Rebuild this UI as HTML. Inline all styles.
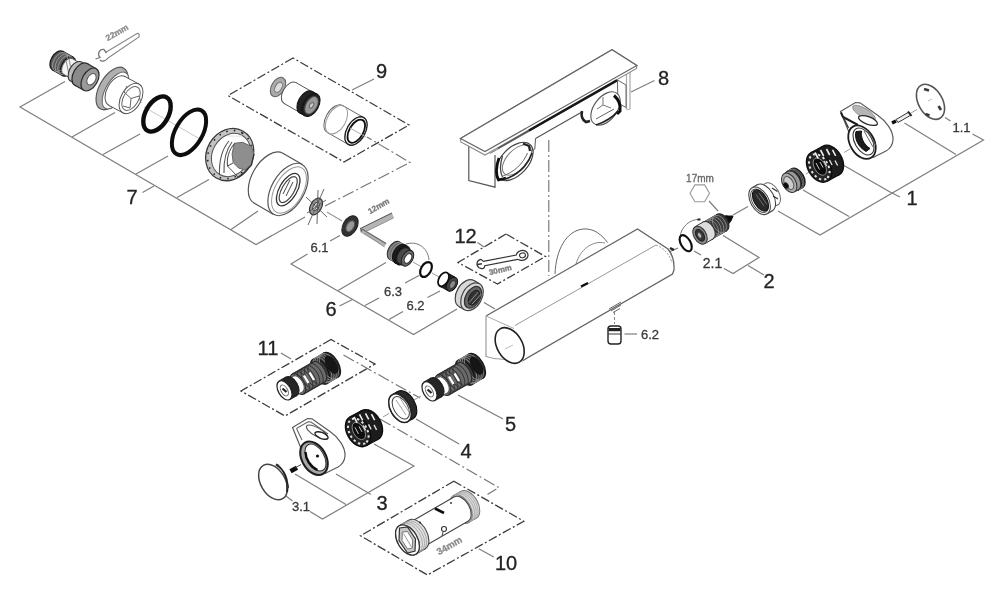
<!DOCTYPE html>
<html><head><meta charset="utf-8"><title>Exploded view</title>
<style>
html,body{margin:0;padding:0;background:#fff;}
svg{display:block;font-family:"Liberation Sans",sans-serif;}
.l{stroke:#7e7e7e;stroke-width:1.2;fill:none;}
.lt{stroke:#9a9a9a;stroke-width:1;fill:none;}
.d{stroke:#3c3c3c;stroke-width:1.3;fill:none;stroke-dasharray:9 2.5 2 2.5;}
.c{stroke:#757575;stroke-width:1.15;fill:none;stroke-dasharray:12 3 2 3;}
.p{stroke:#3a3a3a;stroke-width:1;fill:none;}
.pg{stroke:#777;stroke-width:1;fill:none;}
.pk{stroke:#111;stroke-width:1.4;fill:none;}
.o{stroke:#0a0a0a;fill:none;}
</style></head><body>
<svg width="1000" height="600" viewBox="0 0 1000 600">
<defs><filter id="bl" x="-5%" y="-5%" width="110%" height="110%"><feGaussianBlur stdDeviation="0.55"/></filter></defs>
<rect width="1000" height="600" fill="#fff"/>
<g filter="url(#bl)">
<path d="M65.0 81.5 L20.0 107.0 L256.0 244.5 L305.0 217.0" class="l" />
<line x1="72.0" y1="137.0" x2="115.0" y2="112.5" class="l" />
<line x1="103.0" y1="154.5" x2="140.0" y2="134.0" class="l" />
<line x1="136.0" y1="174.0" x2="168.0" y2="156.0" class="l" />
<line x1="177.0" y1="197.5" x2="209.0" y2="179.5" class="l" />
<line x1="231.0" y1="229.5" x2="258.0" y2="211.0" class="l" />
<line x1="142.5" y1="192.5" x2="154.0" y2="186.0" class="l" />
<text x="132.0" y="204.0" font-size="20" fill="#222" stroke="#222" stroke-width="0.3" text-anchor="middle" >7</text>
<path d="M325.0 206.0 L410.0 162.5 L367.0 137.0" class="c" />
<path d="M293.0 58.0 L228.0 95.6 L344.0 162.0 L409.0 125.0 Z" class="d" />
<line x1="374.0" y1="79.0" x2="352.0" y2="90.0" class="l" />
<text x="381.5" y="78.0" font-size="20" fill="#222" stroke="#222" stroke-width="0.3" text-anchor="middle" >9</text>
<path d="M307.5 254.0 L291.0 264.0 L413.5 334.5 L457.0 309.0" class="l" />
<line x1="340.0" y1="235.5" x2="330.0" y2="241.0" class="l" />
<text x="319.5" y="252.0" font-size="13" fill="#3a3a3a" stroke="#3a3a3a" stroke-width="0.3" text-anchor="middle" >6.1</text>
<line x1="338.0" y1="290.5" x2="386.0" y2="262.5" class="l" />
<line x1="365.0" y1="305.5" x2="379.0" y2="298.0" class="l" />
<line x1="405.0" y1="283.0" x2="419.0" y2="275.5" class="l" />
<text x="393.0" y="296.0" font-size="13" fill="#3a3a3a" stroke="#3a3a3a" stroke-width="0.3" text-anchor="middle" >6.3</text>
<line x1="389.0" y1="319.5" x2="403.0" y2="311.5" class="l" />
<line x1="427.5" y1="297.5" x2="440.0" y2="291.0" class="l" />
<text x="415.5" y="309.5" font-size="13" fill="#3a3a3a" stroke="#3a3a3a" stroke-width="0.3" text-anchor="middle" >6.2</text>
<line x1="339.5" y1="306.0" x2="352.5" y2="299.5" class="l" />
<text x="331.0" y="316.0" font-size="20" fill="#222" stroke="#222" stroke-width="0.3" text-anchor="middle" >6</text>
<path d="M506.0 234.0 L458.0 262.5 L497.5 284.0 L545.5 256.5 Z" class="d" />
<line x1="477.5" y1="242.5" x2="484.0" y2="247.0" class="l" />
<text x="465.5" y="243.0" font-size="20" fill="#222" stroke="#222" stroke-width="0.3" text-anchor="middle" >12</text>
<line x1="548.8" y1="140.0" x2="548.8" y2="276.0" class="c" />
<line x1="654.5" y1="80.5" x2="631.0" y2="92.0" class="l" />
<text x="663.5" y="85.0" font-size="20" fill="#222" stroke="#222" stroke-width="0.3" text-anchor="middle" >8</text>
<line x1="624.5" y1="334.0" x2="637.0" y2="334.0" class="l" />
<text x="650.0" y="338.5" font-size="13" fill="#3a3a3a" stroke="#3a3a3a" stroke-width="0.3" text-anchor="middle" >6.2</text>
<path d="M724.0 268.5 L733.0 273.5 L759.0 257.5 L723.0 235.5" class="l" />
<line x1="748.0" y1="265.5" x2="764.0" y2="275.0" class="l" />
<text x="769.0" y="287.5" font-size="20" fill="#222" stroke="#222" stroke-width="0.3" text-anchor="middle" >2</text>
<line x1="694.0" y1="251.0" x2="701.0" y2="255.0" class="l" />
<text x="712.5" y="268.0" font-size="14" fill="#3a3a3a" stroke="#3a3a3a" stroke-width="0.3" text-anchor="middle" >2.1</text>
<line x1="678.0" y1="248.0" x2="669.0" y2="252.0" class="l" />
<line x1="709.0" y1="201.0" x2="718.0" y2="211.0" class="l" />
<line x1="733.0" y1="215.0" x2="748.0" y2="206.5" class="l" />
<path d="M778.0 211.0 L820.0 235.0 L983.5 140.0 L972.5 134.0" class="l" />
<line x1="803.0" y1="190.0" x2="849.0" y2="216.5" class="l" />
<line x1="844.0" y1="165.5" x2="890.0" y2="192.0" class="l" />
<line x1="904.5" y1="123.0" x2="956.0" y2="154.5" class="l" />
<line x1="945.0" y1="117.5" x2="950.5" y2="121.0" class="l" />
<text x="961.5" y="131.5" font-size="13" fill="#3a3a3a" stroke="#3a3a3a" stroke-width="0.3" text-anchor="middle" >1.1</text>
<line x1="890.0" y1="192.0" x2="900.0" y2="197.0" class="l" />
<text x="912.0" y="204.5" font-size="20" fill="#222" stroke="#222" stroke-width="0.3" text-anchor="middle" >1</text>
<path d="M331.0 339.5 L241.0 391.0 L285.0 416.0 L375.0 364.0 Z" class="d" />
<line x1="281.0" y1="353.0" x2="291.0" y2="359.0" class="l" />
<text x="268.0" y="355.0" font-size="20" fill="#222" stroke="#222" stroke-width="0.3" text-anchor="middle" >11</text>
<path d="M343.5 355.0 L420.0 398.0" class="c" />
<path d="M380.0 419.0 L498.8 487.5 L487.5 494.5" class="c" />
<line x1="416.0" y1="419.0" x2="459.0" y2="444.0" class="l" />
<text x="466.0" y="458.0" font-size="20" fill="#222" stroke="#222" stroke-width="0.3" text-anchor="middle" >4</text>
<line x1="458.0" y1="395.0" x2="503.0" y2="419.0" class="l" />
<text x="510.5" y="431.0" font-size="20" fill="#222" stroke="#222" stroke-width="0.3" text-anchor="middle" >5</text>
<path d="M374.0 444.0 L414.0 466.0 L322.5 519.0 L310.0 511.5" class="l" />
<line x1="295.0" y1="474.0" x2="346.0" y2="504.5" class="l" />
<line x1="336.0" y1="474.0" x2="371.0" y2="494.5" class="l" />
<text x="382.0" y="509.5" font-size="20" fill="#222" stroke="#222" stroke-width="0.3" text-anchor="middle" >3</text>
<line x1="286.0" y1="496.0" x2="292.5" y2="501.0" class="l" />
<text x="301.0" y="510.5" font-size="13" fill="#3a3a3a" stroke="#3a3a3a" stroke-width="0.3" text-anchor="middle" >3.1</text>
<path d="M453.8 481.2 L360.5 535.8 L427.5 575.0 L523.8 521.2 Z" class="d" />
<line x1="478.8" y1="548.8" x2="493.8" y2="557.0" class="l" />
<text x="506.0" y="569.5" font-size="20" fill="#222" stroke="#222" stroke-width="0.3" text-anchor="middle" >10</text>
<path d="M555 274 C556 250 566 231 583 229 C594 228 602 235 607.5 242.5" class="pg" style="stroke:#666"/>
<path d="M576 264 C580 250 592 240 605 243" class="pg" style="stroke:#888"/>
<path d="M486 316 L637.5 229 L668 249 C672 254 674.5 262 674 270 L672.5 274 L523 360.5" class="p" style="stroke:#626262;stroke-width:1.25;fill:#fff"/>
<path d="M486 316 L514 328.5" class="lt" style="stroke:#aaa"/>
<line x1="515.0" y1="325.5" x2="656.0" y2="245.0" class="lt" style="stroke:#999"/>
<path d="M656 245 C664 248 670 255 672 263" class="lt" style="stroke:#999;stroke-dasharray:2 1.5"/>
<line x1="486.0" y1="316.0" x2="486.0" y2="357.0" class="lt" style="stroke:#b5b5b5;stroke-width:1.6"/>
<path d="M486 356.5 L494 358.5 L523 361" class="lt" style="stroke:#999"/>
<ellipse cx="509.7" cy="345.5" rx="19.2" ry="12.6" transform="rotate(60 509.7 345.5)" class="p" style="stroke:#222;stroke-width:1.6;fill:#fff"/>
<line x1="505.0" y1="349.0" x2="513.0" y2="345.0" class="lt" style="stroke:#bbb"/>
<path d="M581 286.5 L588 283" class="pk" style="stroke-width:2.2;stroke:#111"/>
<path d="M670 248 l4 2" class="pk" style="stroke-width:2.5;stroke:#222"/>
<path d="M609 309 l12 -7 M611 311 l10 -6 M613 312.5 l7 -4" class="pg" style="stroke:#666"/>
<line x1="614.5" y1="312.0" x2="614.5" y2="324.0" class="lt" style="stroke:#888;stroke-dasharray:3 2"/>
<rect x="608" y="326" width="13" height="18" rx="3" fill="#fff" stroke="#222" stroke-width="1.4"/>
<rect x="608.5" y="328" width="12" height="3.2" fill="#222"/>
<line x1="608.0" y1="334.0" x2="621.0" y2="334.0" class="p" />
<line x1="484.0" y1="302.5" x2="495.0" y2="309.0" class="l" />
<path d="M468.8 143 L468.8 180.5 L495 187.2 L495 155" class="p" style="stroke:#555;stroke-width:1.2;fill:#fff"/>
<path d="M626.5 70 L626.5 109.5 M630 69 L630 109 L626.5 109.5" class="lt" style="stroke:#aaa;stroke-width:1.2"/>
<path d="M617.5 80 L626 85 L626 107.5 L618 103 L617.5 85 Z" class="p" style="stroke:#666;fill:#fff"/>
<path d="M490 153.5 L617 81.5" class="lt" style="stroke:#777"/>
<path d="M535.5 138.5 L581 112.5" class="p" style="stroke:#555;stroke-width:1.2"/>
<path d="M535.5 138.5 L534.8 149 C532 152 529 152 527 151" class="p" style="stroke:#555"/>
<ellipse cx="514.5" cy="161.5" rx="23" ry="13.5" transform="rotate(-47 514.5 161.5)" fill="#fff" stroke="#444" stroke-width="1.2"/>
<ellipse cx="517" cy="160" rx="18.5" ry="10" transform="rotate(-47 517 160)" fill="none" stroke="#777" stroke-width="1"/>
<path d="M499 158 C496 166 495.5 175 498.5 180 L506 178" class="pk" style="stroke:#111;stroke-width:2.8"/>
<path d="M502.5 156 C500 164 500 172 502.5 177" class="p" style="stroke:#444;stroke-width:1.3"/>
<path d="M523 143.5 L529 146 L530 151" class="pk" style="stroke:#222;stroke-width:2.2"/>
<path d="M504 179.5 C516 176 527 167 532 153" class="pk" style="stroke:#222;stroke-width:1.7"/>
<path d="M503 176 C514 172 523 164 527.5 153" class="p" style="stroke:#666;stroke-width:1"/>
<ellipse cx="605.5" cy="108.5" rx="19" ry="11.5" transform="rotate(-53 605.5 108.5)" fill="#fff" stroke="#555" stroke-width="1.1"/>
<path d="M603 97 L603 105 L611 108 M603 105 L597 109" class="pg" style="stroke:#777"/>
<path d="M614 95.5 C618 99 621 105 620 111 L617 114" class="pk" style="stroke:#111;stroke-width:3"/>
<path d="M596 125 C605 122 613 117 618 111" class="pk" style="stroke:#222;stroke-width:1.8"/>
<path d="M582 111 C581 116 582 120 586 122 L590 121" class="pk" style="stroke:#222;stroke-width:2.6"/>
<path d="M596 119 L614 109" class="pg" style="stroke:#666"/>
<path d="M460.5 138.5 L612 49.8 L636.8 65.5 L485 151.5 Z" class="p" style="stroke:#666;stroke-width:1.2;fill:#fff"/>
<path d="M460.5 138.5 L460.8 142 L485 155 L636.5 68.5 L636.8 65.5" class="p" style="stroke:#888;stroke-width:1.1;fill:#fff"/>
<path d="M460.5 138.5 L612 49.8 L636.8 65.5 L485 151.5 Z" class="p" style="stroke:#666;stroke-width:1.2;fill:#fff"/>
<path d="M498 148.3 L529 130.5" class="p" style="stroke:#555;stroke-width:1.5"/>
<path d="M529 130.5 L617 80.2" class="pk" style="stroke:#151515;stroke-width:2.3"/>
<ellipse cx="57.5" cy="60.5" rx="10.5" ry="6.3" transform="rotate(-60 57.5 60.5)" class="p" style="fill:#5a5a5a;stroke:#1a1a1a;stroke-width:1.3"/>
<path d="M62.8 51.4 L73.2 57.4 L62.8 75.6 L52.2 69.6 Z" fill="#5a5a5a" stroke="none"/>
<line x1="62.8" y1="51.4" x2="73.2" y2="57.4" class="p" style="stroke:#1a1a1a;stroke-width:1.3"/>
<line x1="52.2" y1="69.6" x2="62.8" y2="75.6" class="p" style="stroke:#1a1a1a;stroke-width:1.3"/>
<ellipse cx="68.0" cy="66.5" rx="10.5" ry="6.3" transform="rotate(-60 68.0 66.5)" class="p" style="fill:#5a5a5a;stroke:#1a1a1a;stroke-width:1.3"/>
<ellipse cx="60.1" cy="62.0" rx="10.5" ry="6.3" transform="rotate(-60 60.1 62.0)" class="p" style="stroke:#aaa;stroke-width:0.7"/>
<ellipse cx="62.7" cy="63.5" rx="10.5" ry="6.3" transform="rotate(-60 62.7 63.5)" class="p" style="stroke:#aaa;stroke-width:0.7"/>
<ellipse cx="65.3" cy="65.0" rx="10.5" ry="6.3" transform="rotate(-60 65.3 65.0)" class="p" style="stroke:#aaa;stroke-width:0.7"/>
<ellipse cx="68.0" cy="66.5" rx="9.0" ry="5.3" transform="rotate(-60 68.0 66.5)" class="p" style="fill:#f4f4f4;stroke:#555"/>
<path d="M72.5 58.7 L79.5 62.7 L70.5 78.3 L63.5 74.3 Z" fill="#f4f4f4" stroke="none"/>
<line x1="72.5" y1="58.7" x2="79.5" y2="62.7" class="p" style="stroke:#555"/>
<line x1="63.5" y1="74.3" x2="70.5" y2="78.3" class="p" style="stroke:#555"/>
<ellipse cx="75.0" cy="70.5" rx="9.0" ry="5.3" transform="rotate(-60 75.0 70.5)" class="p" style="fill:#f4f4f4;stroke:#555"/>
<path d="M66 60 L69 75 M69 59 l3 15" class="p" style="stroke:#999;stroke-width:1.2"/>
<ellipse cx="76.0" cy="71.5" rx="11.0" ry="6.6" transform="rotate(-60 76.0 71.5)" class="p" style="fill:#bbb;stroke:#333"/>
<path d="M81.5 62.0 L86.5 64.9 L75.5 83.9 L70.5 81.0 Z" fill="#bbb" stroke="none"/>
<line x1="81.5" y1="62.0" x2="86.5" y2="64.9" class="p" style="stroke:#333"/>
<line x1="70.5" y1="81.0" x2="75.5" y2="83.9" class="p" style="stroke:#333"/>
<ellipse cx="81.0" cy="74.4" rx="11.0" ry="6.6" transform="rotate(-60 81.0 74.4)" class="p" style="fill:#bbb;stroke:#333"/>
<ellipse cx="81.0" cy="74.4" rx="12.5" ry="7.6" transform="rotate(-60 81.0 74.4)" class="p" style="fill:#8a8a8a;stroke:#2a2a2a;stroke-width:1.2"/>
<path d="M87.2 63.6 L96.2 68.7 L83.8 90.3 L74.8 85.2 Z" fill="#8a8a8a" stroke="none"/>
<line x1="87.2" y1="63.6" x2="96.2" y2="68.7" class="p" style="stroke:#2a2a2a;stroke-width:1.2"/>
<line x1="74.8" y1="85.2" x2="83.8" y2="90.3" class="p" style="stroke:#2a2a2a;stroke-width:1.2"/>
<ellipse cx="90.0" cy="79.5" rx="12.5" ry="7.6" transform="rotate(-60 90.0 79.5)" class="p" style="fill:#9a9a9a;stroke:#2a2a2a;stroke-width:1.2"/>
<ellipse cx="91.5" cy="79.3" rx="6.2" ry="4.0" transform="rotate(-60 91.5 79.3)" class="p" style="fill:#fff;stroke:#555"/>
<path d="M105.5 52.5 L137 33.5 Q140 33 139 37 L108 58" class="pg" style="stroke:#8a8a8a;stroke-width:1.2"/>
<path d="M95.5 59 L100 57.5 C97 54 99 49 104 49.5 L106.5 53 M108 58 C106 61 102 62 100 60" class="pg" style="stroke:#777;stroke-width:1.3"/>
<text x="118.5" y="35.0" font-size="8.5" fill="#8a8a8a" stroke="#8a8a8a" stroke-width="0.3" text-anchor="middle" transform="rotate(-30 118.5 35.0)" font-weight="bold">22mm</text>
<ellipse cx="112.0" cy="88.5" rx="23.5" ry="12.5" transform="rotate(-60 112.0 88.5)" class="p" style="fill:#b0b0b0;stroke:#555;stroke-width:1.2"/>
<ellipse cx="115.5" cy="90.5" rx="20.5" ry="9.8" transform="rotate(-60 115.5 90.5)" class="p" style="fill:#fff;stroke:#666"/>
<ellipse cx="117.0" cy="91.0" rx="16.5" ry="10.0" transform="rotate(-60 117.0 91.0)" class="p" style="fill:#fff;stroke:#555"/>
<path d="M125.2 76.7 L139.2 84.2 L122.8 112.8 L108.8 105.3 Z" fill="#fff" stroke="none"/>
<line x1="125.2" y1="76.7" x2="139.2" y2="84.2" class="p" style="stroke:#555"/>
<line x1="108.8" y1="105.3" x2="122.8" y2="112.8" class="p" style="stroke:#555"/>
<ellipse cx="131.0" cy="98.5" rx="16.5" ry="10.0" transform="rotate(-60 131.0 98.5)" class="p" style="fill:#fff;stroke:#555"/>
<ellipse cx="131.0" cy="98.5" rx="13.0" ry="7.5" transform="rotate(-60 131.0 98.5)" class="p" style="stroke:#666"/>
<path d="M131 98.5 L124 92 M131 98.5 L139 96 M131 98.5 L130 108 M124 92 L127 86 M139 96 L141 103 M130 108 L123 106" class="pg" style="stroke:#666"/>
<line x1="144.0" y1="107.0" x2="200.0" y2="139.0" class="lt" style="stroke:#c5c5c5"/>
<ellipse cx="157.0" cy="114.0" rx="19.2" ry="11.3" transform="rotate(-60 157.0 114.0)" class="o" style="stroke-width:4.4"/>
<ellipse cx="189.0" cy="132.3" rx="25.1" ry="13.5" transform="rotate(-60 189.0 132.3)" class="o" style="stroke-width:4"/>
<ellipse cx="229.7" cy="154.6" rx="27" ry="23" transform="rotate(-60 229.7 154.6)" fill="#c4c4c4" stroke="#3a3a3a" stroke-width="1.3"/>
<ellipse cx="231" cy="155" rx="22.5" ry="18.5" transform="rotate(-60 231 155)" fill="#fff" stroke="#555" stroke-width="1"/>
<ellipse cx="229.7" cy="154.6" rx="25" ry="21" transform="rotate(-60 229.7 154.6)" fill="none" stroke="#222" stroke-width="1.6" stroke-dasharray="1.5 6"/>
<path d="M234.3 143.3 L242.8 142.3 L251.3 146.5 L254 154 L251.3 164.7 L245 170 L238.5 168 L233.2 162.5 L232.1 154 Z" class="p" style="fill:#8e8e8e;stroke:#666"/>
<path d="M254 154 L251.5 165 L245 172 L238.5 177" class="p" style="stroke:#333;stroke-width:1.3"/>
<path d="M229 141 C222 149 219 160 219.5 175 M232 142 C226 150 223.5 160 224 173" class="p" style="stroke:#555;stroke-width:1.1"/>
<path d="M234.5 143.5 C229 150 226.5 158 227.5 166 L233 163" class="p" style="stroke:#444;stroke-width:1"/>
<path d="M227.5 166 L238 177" class="p" style="stroke:#555"/>
<path d="M228 136 L242 136.5" class="p" style="stroke:#eee;stroke-width:2"/>
<ellipse cx="268.4" cy="178.2" rx="28.7" ry="16.3" transform="rotate(-60 268.4 178.2)" class="p" style="fill:#fff;stroke:#555;stroke-width:1.2"/>
<path d="M282.8 153.3 L302.4 164.6 L273.6 214.4 L254.0 203.1 Z" fill="#fff" stroke="none"/>
<line x1="282.8" y1="153.3" x2="302.4" y2="164.6" class="p" style="stroke:#555;stroke-width:1.2"/>
<line x1="254.0" y1="203.1" x2="273.6" y2="214.4" class="p" style="stroke:#555;stroke-width:1.2"/>
<ellipse cx="288.0" cy="189.5" rx="28.7" ry="16.3" transform="rotate(-60 288.0 189.5)" class="p" style="fill:#fff;stroke:#555;stroke-width:1.2"/>
<ellipse cx="289.0" cy="190.0" rx="25.5" ry="13.8" transform="rotate(-60 289.0 190.0)" class="p" style="stroke:#999"/>
<ellipse cx="288.2" cy="189.6" rx="18.0" ry="8.8" transform="rotate(-60 288.2 189.6)" class="p" style="stroke:#333;stroke-width:1.3;fill:#fff"/>
<ellipse cx="288.2" cy="189.6" rx="14.5" ry="6.2" transform="rotate(-60 288.2 189.6)" class="p" style="stroke:#444;stroke-width:1.2;fill:#fff"/>
<path d="M283 194 L290 180 M286 196 L293 182" class="p" style="stroke:#444"/>
<ellipse cx="316.0" cy="206.5" rx="9.0" ry="5.5" transform="rotate(-60 316.0 206.5)" class="p" style="fill:#999;stroke:#333;stroke-width:1.2"/>
<ellipse cx="316.0" cy="206.5" rx="4.5" ry="2.6" transform="rotate(-60 316.0 206.5)" class="p" style="fill:#ddd;stroke:#444"/>
<path d="M306 197 L327 217 M324 189 L308 225 M307 213 L326 200 M318 190 L317 224" class="p" style="stroke:#555;stroke-width:0.9"/>
<ellipse cx="278.0" cy="87.0" rx="10.5" ry="6.5" transform="rotate(-60 278.0 87.0)" class="p" style="fill:#aaa;stroke:#666;stroke-width:1.1"/>
<ellipse cx="278.5" cy="87.3" rx="5.5" ry="3.2" transform="rotate(-60 278.5 87.3)" class="p" style="fill:#ddd;stroke:#777"/>
<ellipse cx="290.0" cy="93.0" rx="12.0" ry="7.2" transform="rotate(-60 290.0 93.0)" class="p" style="fill:#fff;stroke:#555"/>
<path d="M296.0 82.6 L316.0 94.1 L304.0 114.9 L284.0 103.4 Z" fill="#fff" stroke="none"/>
<line x1="296.0" y1="82.6" x2="316.0" y2="94.1" class="p" style="stroke:#555"/>
<line x1="284.0" y1="103.4" x2="304.0" y2="114.9" class="p" style="stroke:#555"/>
<ellipse cx="310.0" cy="104.5" rx="12.0" ry="7.2" transform="rotate(-60 310.0 104.5)" class="p" style="fill:#fff;stroke:#555"/>
<ellipse cx="306.0" cy="102.2" rx="12.5" ry="7.6" transform="rotate(-60 306.0 102.2)" class="p" style="fill:#222;stroke:#111"/>
<path d="M312.2 91.4 L317.2 94.2 L304.8 115.8 L299.8 113.0 Z" fill="#222" stroke="none"/>
<line x1="312.2" y1="91.4" x2="317.2" y2="94.2" class="p" style="stroke:#111"/>
<line x1="299.8" y1="113.0" x2="304.8" y2="115.8" class="p" style="stroke:#111"/>
<ellipse cx="311.0" cy="105.0" rx="12.5" ry="7.6" transform="rotate(-60 311.0 105.0)" class="p" style="fill:#222;stroke:#111"/>
<ellipse cx="311.5" cy="105.3" rx="9.5" ry="5.5" transform="rotate(-60 311.5 105.3)" class="p" style="fill:#999;stroke:#555"/>
<ellipse cx="311.5" cy="105.3" rx="3.0" ry="1.8" transform="rotate(-60 311.5 105.3)" class="p" style="fill:#ccc;stroke:#666"/>
<ellipse cx="335.0" cy="119.0" rx="15.5" ry="9.2" transform="rotate(-60 335.0 119.0)" class="p" style="fill:#fff;stroke:#666"/>
<path d="M342.8 105.6 L363.8 117.6 L348.2 144.4 L327.2 132.4 Z" fill="#fff" stroke="none"/>
<line x1="342.8" y1="105.6" x2="363.8" y2="117.6" class="p" style="stroke:#666"/>
<line x1="327.2" y1="132.4" x2="348.2" y2="144.4" class="p" style="stroke:#666"/>
<ellipse cx="356.0" cy="131.0" rx="15.5" ry="9.2" transform="rotate(-60 356.0 131.0)" class="p" style="fill:#fff;stroke:#666"/>
<ellipse cx="336.5" cy="119.8" rx="15.5" ry="9.2" transform="rotate(-60 336.5 119.8)" class="p" style="stroke:#999"/>
<ellipse cx="356.0" cy="131.0" rx="15.5" ry="9.2" transform="rotate(-60 356.0 131.0)" class="p" style="stroke:#222;stroke-width:1.3;fill:#fff"/>
<ellipse cx="356.3" cy="131.2" rx="12.8" ry="7.0" transform="rotate(-60 356.3 131.2)" class="p" style="stroke:#111;stroke-width:1.8;fill:#fff"/>
<line x1="350.0" y1="128.0" x2="366.0" y2="137.0" class="lt" style="stroke:#aaa"/>
<ellipse cx="350.0" cy="226.0" rx="11.0" ry="7.0" transform="rotate(-60 350.0 226.0)" class="p" style="fill:#333;stroke:#222"/>
<ellipse cx="350.3" cy="226.2" rx="6.0" ry="3.6" transform="rotate(-60 350.3 226.2)" class="p" style="fill:#999;stroke:#555"/>
<line x1="327.0" y1="212.0" x2="342.0" y2="221.0" class="c" style="stroke-dasharray:none;stroke:#999"/>
<path d="M393 215.5 L362 231 L385.5 245" class="pg" style="stroke:#b4b4b4;stroke-width:4.2;stroke-linejoin:round"/>
<path d="M392 213 L360.5 228.5 L362 231.5" class="pg" style="stroke:#555;stroke-width:1.1"/>
<path d="M362 229 L386 243.5" class="pg" style="stroke:#666;stroke-width:1.1"/>
<path d="M364 233 L384.5 247 M366 231.5 L393.5 218" class="pg" style="stroke:#888;stroke-width:0.9"/>
<text x="380.0" y="208.5" font-size="8" fill="#777" stroke="#777" stroke-width="0.3" text-anchor="middle" transform="rotate(-30 380.0 208.5)" font-weight="bold">12mm</text>
<ellipse cx="394.5" cy="250.6" rx="10.0" ry="6.2" transform="rotate(-60 394.5 250.6)" class="p" style="fill:#6a6a6a;stroke:#333"/>
<path d="M399.5 241.9 L406.0 245.7 L396.0 263.1 L389.5 259.3 Z" fill="#6a6a6a" stroke="none"/>
<line x1="399.5" y1="241.9" x2="406.0" y2="245.7" class="p" style="stroke:#333"/>
<line x1="389.5" y1="259.3" x2="396.0" y2="263.1" class="p" style="stroke:#333"/>
<ellipse cx="401.0" cy="254.4" rx="10.0" ry="6.2" transform="rotate(-60 401.0 254.4)" class="p" style="fill:#6a6a6a;stroke:#333"/>
<ellipse cx="396.2" cy="251.6" rx="10.0" ry="6.2" transform="rotate(-60 396.2 251.6)" class="p" style="stroke:#aaa;stroke-width:0.6"/>
<ellipse cx="398.4" cy="252.8" rx="10.0" ry="6.2" transform="rotate(-60 398.4 252.8)" class="p" style="stroke:#aaa;stroke-width:0.6"/>
<ellipse cx="400.0" cy="253.8" rx="10.3" ry="6.4" transform="rotate(-60 400.0 253.8)" class="p" style="fill:#1c1c1c;stroke:#111"/>
<path d="M405.1 244.9 L408.1 246.7 L397.9 264.5 L394.9 262.7 Z" fill="#1c1c1c" stroke="none"/>
<line x1="405.1" y1="244.9" x2="408.1" y2="246.7" class="p" style="stroke:#111"/>
<line x1="394.9" y1="262.7" x2="397.9" y2="264.5" class="p" style="stroke:#111"/>
<ellipse cx="403.0" cy="255.6" rx="10.3" ry="6.4" transform="rotate(-60 403.0 255.6)" class="p" style="fill:#1c1c1c;stroke:#111"/>
<ellipse cx="403.0" cy="255.6" rx="8.6" ry="5.3" transform="rotate(-60 403.0 255.6)" class="p" style="fill:#4a4a4a;stroke:#222"/>
<path d="M407.3 248.2 L411.8 250.8 L403.2 265.6 L398.7 263.0 Z" fill="#4a4a4a" stroke="none"/>
<line x1="407.3" y1="248.2" x2="411.8" y2="250.8" class="p" style="stroke:#222"/>
<line x1="398.7" y1="263.0" x2="403.2" y2="265.6" class="p" style="stroke:#222"/>
<ellipse cx="407.5" cy="258.2" rx="8.6" ry="5.3" transform="rotate(-60 407.5 258.2)" class="p" style="fill:#666;stroke:#222"/>
<ellipse cx="408.0" cy="258.5" rx="5.2" ry="3.2" transform="rotate(-60 408.0 258.5)" class="p" style="fill:#fff;stroke:#333"/>
<path d="M405 244.5 C416 240 428 247 429 260" class="pg" style="stroke:#777"/>
<line x1="413.0" y1="262.0" x2="421.0" y2="266.5" class="lt" />
<ellipse cx="426.0" cy="269.5" rx="8.0" ry="5.0" transform="rotate(-60 426.0 269.5)" class="o" style="stroke-width:2.2"/>
<line x1="432.0" y1="273.0" x2="439.0" y2="277.0" class="lt" />
<ellipse cx="444.5" cy="280.0" rx="7.6" ry="4.8" transform="rotate(-60 444.5 280.0)" class="p" style="fill:#222;stroke:#111"/>
<path d="M448.3 273.4 L455.8 277.6 L448.2 290.8 L440.7 286.6 Z" fill="#222" stroke="none"/>
<line x1="448.3" y1="273.4" x2="455.8" y2="277.6" class="p" style="stroke:#111"/>
<line x1="440.7" y1="286.6" x2="448.2" y2="290.8" class="p" style="stroke:#111"/>
<ellipse cx="452.0" cy="284.2" rx="7.6" ry="4.8" transform="rotate(-60 452.0 284.2)" class="p" style="fill:#444;stroke:#111"/>
<ellipse cx="443.5" cy="279.3" rx="7.6" ry="4.6" transform="rotate(-60 443.5 279.3)" class="p" style="stroke:#111;stroke-width:1.8;fill:#fff"/>
<ellipse cx="452.5" cy="284.5" rx="4.2" ry="2.6" transform="rotate(-60 452.5 284.5)" class="p" style="fill:#888;stroke:#333"/>
<ellipse cx="466.5" cy="293.5" rx="15.0" ry="9.8" transform="rotate(-60 466.5 293.5)" class="p" style="fill:#d8d8d8;stroke:#444;stroke-width:1.2"/>
<path d="M474.0 280.5 L479.5 283.7 L464.5 309.7 L459.0 306.5 Z" fill="#d8d8d8" stroke="none"/>
<line x1="474.0" y1="280.5" x2="479.5" y2="283.7" class="p" style="stroke:#444;stroke-width:1.2"/>
<line x1="459.0" y1="306.5" x2="464.5" y2="309.7" class="p" style="stroke:#444;stroke-width:1.2"/>
<ellipse cx="472.0" cy="296.7" rx="15.0" ry="9.8" transform="rotate(-60 472.0 296.7)" class="p" style="fill:#d8d8d8;stroke:#444;stroke-width:1.2"/>
<ellipse cx="473.0" cy="297.2" rx="11.8" ry="7.2" transform="rotate(-60 473.0 297.2)" class="p" style="fill:#666;stroke:#333;stroke-width:1.2"/>
<ellipse cx="474.0" cy="297.7" rx="8.0" ry="4.7" transform="rotate(-60 474.0 297.7)" class="p" style="fill:#333;stroke:#222"/>
<path d="M469 302.7 L478 292.2 M472 304.2 L481 294.2" class="p" style="stroke:#aaa;stroke-width:0.8"/>
<g transform="rotate(-11 501 260)">
<path d="M478 263.5 C475 260 477 255.5 481.5 255.5 L483.5 258 L517 258 C519 253.5 526 253.5 528 257.5 C530 262 525 266 520 264 L517.5 262.5 L484 262.5 C483.5 265 481 266 478 263.5 Z" class="p" style="stroke:#333;stroke-width:1.2;fill:#fff"/>
<ellipse cx="523" cy="259.5" rx="3" ry="2.4" fill="#fff" stroke="#333" stroke-width="1.1"/>
<path d="M477 260 l4.5 0" class="p" style="stroke:#333;stroke-width:1.5"/>
</g>
<text x="501.0" y="272.5" font-size="8" fill="#7a7a7a" stroke="#7a7a7a" stroke-width="0.3" text-anchor="middle" transform="rotate(-14 501.0 272.5)" font-weight="bold">30mm</text>
<text x="700.0" y="181.8" font-size="10" fill="#666" stroke="#666" stroke-width="0.3" text-anchor="middle" >17mm</text>
<path d="M690.0 193.3 L694.9 184.9 L704.6 184.9 L709.5 193.3 L704.6 201.7 L694.9 201.7 Z" class="pg" style="stroke:#999;stroke-width:1.1"/>
<path d="M699 219.5 C690 219 681 227 680 237" class="pg" style="stroke:#777"/>
<path d="M697.5 219.5 l3 0" class="pk" style="stroke:#222;stroke-width:2"/>
<ellipse cx="685.7" cy="243.2" rx="8.9" ry="4.8" transform="rotate(60 685.7 243.2)" class="o" style="stroke-width:2.1"/>
<ellipse cx="727.0" cy="219.5" rx="4.0" ry="2.6" transform="rotate(60 727.0 219.5)" class="p" style="fill:#111;stroke:#111"/>
<path d="M729.0 223.0 L724.0 226.0 L720.0 219.0 L725.0 216.0 Z" fill="#111" stroke="none"/>
<line x1="729.0" y1="223.0" x2="724.0" y2="226.0" class="p" style="stroke:#111"/>
<line x1="725.0" y1="216.0" x2="720.0" y2="219.0" class="p" style="stroke:#111"/>
<ellipse cx="722.0" cy="222.5" rx="4.0" ry="2.6" transform="rotate(60 722.0 222.5)" class="p" style="fill:#111;stroke:#111"/>
<path d="M726 216 L733 216 L731 221 L726 222 Z" class="p" style="fill:#111;stroke:#111"/>
<ellipse cx="722.0" cy="222.5" rx="9.5" ry="6.0" transform="rotate(60 722.0 222.5)" class="p" style="fill:#3a3a3a;stroke:#222"/>
<path d="M726.8 230.7 L712.8 238.7 L703.2 222.3 L717.2 214.3 Z" fill="#3a3a3a" stroke="none"/>
<line x1="726.8" y1="230.7" x2="712.8" y2="238.7" class="p" style="stroke:#222"/>
<line x1="717.2" y1="214.3" x2="703.2" y2="222.3" class="p" style="stroke:#222"/>
<ellipse cx="708.0" cy="230.5" rx="9.5" ry="6.0" transform="rotate(60 708.0 230.5)" class="p" style="fill:#3a3a3a;stroke:#222"/>
<ellipse cx="719.4" cy="224.0" rx="9.5" ry="6.0" transform="rotate(60 719.4 224.0)" class="p" style="stroke:#999;stroke-width:0.7"/>
<ellipse cx="716.8" cy="225.5" rx="9.5" ry="6.0" transform="rotate(60 716.8 225.5)" class="p" style="stroke:#999;stroke-width:0.7"/>
<ellipse cx="714.2" cy="227.0" rx="9.5" ry="6.0" transform="rotate(60 714.2 227.0)" class="p" style="stroke:#999;stroke-width:0.7"/>
<ellipse cx="711.6" cy="228.5" rx="9.5" ry="6.0" transform="rotate(60 711.6 228.5)" class="p" style="stroke:#999;stroke-width:0.7"/>
<ellipse cx="708.0" cy="230.5" rx="9.8" ry="6.2" transform="rotate(60 708.0 230.5)" class="p" style="fill:#ddd;stroke:#333"/>
<path d="M712.9 239.0 L704.9 243.7 L695.1 226.7 L703.1 222.0 Z" fill="#ddd" stroke="none"/>
<line x1="712.9" y1="239.0" x2="704.9" y2="243.7" class="p" style="stroke:#333"/>
<line x1="703.1" y1="222.0" x2="695.1" y2="226.7" class="p" style="stroke:#333"/>
<ellipse cx="700.0" cy="235.2" rx="9.8" ry="6.2" transform="rotate(60 700.0 235.2)" class="p" style="fill:#888;stroke:#333"/>
<ellipse cx="700.0" cy="235.2" rx="6.5" ry="3.8" transform="rotate(60 700.0 235.2)" class="p" style="fill:#333;stroke:#222"/>
<ellipse cx="699.6" cy="235.4" rx="3.0" ry="1.8" transform="rotate(60 699.6 235.4)" class="p" style="fill:#bbb;stroke:#444"/>
<ellipse cx="771.5" cy="194.2" rx="12.5" ry="7.5" transform="rotate(60 771.5 194.2)" class="p" style="fill:#fff;stroke:#666"/>
<ellipse cx="764.8" cy="197.8" rx="15.0" ry="9.0" transform="rotate(60 764.8 197.8)" class="p" style="fill:#fff;stroke:#444;stroke-width:1.1"/>
<path d="M772.3 210.8 L767.1 213.8 L752.1 187.8 L757.3 184.8 Z" fill="#fff" stroke="none"/>
<line x1="772.3" y1="210.8" x2="767.1" y2="213.8" class="p" style="stroke:#444;stroke-width:1.1"/>
<line x1="757.3" y1="184.8" x2="752.1" y2="187.8" class="p" style="stroke:#444;stroke-width:1.1"/>
<ellipse cx="759.6" cy="200.8" rx="15.0" ry="9.0" transform="rotate(60 759.6 200.8)" class="p" style="fill:#fff;stroke:#444;stroke-width:1.1"/>
<ellipse cx="759.6" cy="200.8" rx="12.8" ry="7.3" transform="rotate(60 759.6 200.8)" class="p" style="stroke:#555"/>
<ellipse cx="760.4" cy="200.4" rx="11.8" ry="6.3" transform="rotate(60 760.4 200.4)" class="p" style="fill:#2a2a2a;stroke:#111"/>
<path d="M756 194.5 L764 206 M759 193 L767 204.5" class="p" style="stroke:#888;stroke-width:0.7"/>
<path d="M772 188 l5.5 3.5 M773 196 l5 3" class="p" style="stroke:#333;stroke-width:1.3"/>
<ellipse cx="797.0" cy="178.3" rx="11.0" ry="7.0" transform="rotate(60 797.0 178.3)" class="p" style="fill:#2e2e2e;stroke:#111"/>
<path d="M802.5 187.8 L798.5 190.1 L787.5 171.1 L791.5 168.8 Z" fill="#2e2e2e" stroke="none"/>
<line x1="802.5" y1="187.8" x2="798.5" y2="190.1" class="p" style="stroke:#111"/>
<line x1="791.5" y1="168.8" x2="787.5" y2="171.1" class="p" style="stroke:#111"/>
<ellipse cx="793.0" cy="180.6" rx="11.0" ry="7.0" transform="rotate(60 793.0 180.6)" class="p" style="fill:#2e2e2e;stroke:#111"/>
<ellipse cx="795.7" cy="179.1" rx="11.0" ry="7.0" transform="rotate(60 795.7 179.1)" class="p" style="stroke:#888;stroke-width:0.6"/>
<ellipse cx="794.4" cy="179.8" rx="11.0" ry="7.0" transform="rotate(60 794.4 179.8)" class="p" style="stroke:#888;stroke-width:0.6"/>
<ellipse cx="793.0" cy="180.6" rx="10.5" ry="6.6" transform="rotate(60 793.0 180.6)" class="p" style="fill:#999;stroke:#333"/>
<path d="M798.2 189.7 L794.5 191.9 L784.0 173.7 L787.8 171.5 Z" fill="#999" stroke="none"/>
<line x1="798.2" y1="189.7" x2="794.5" y2="191.9" class="p" style="stroke:#333"/>
<line x1="787.8" y1="171.5" x2="784.0" y2="173.7" class="p" style="stroke:#333"/>
<ellipse cx="789.2" cy="182.8" rx="10.5" ry="6.6" transform="rotate(60 789.2 182.8)" class="p" style="fill:#aaa;stroke:#333"/>
<ellipse cx="788.8" cy="183.0" rx="7.0" ry="4.2" transform="rotate(60 788.8 183.0)" class="p" style="fill:#ccc;stroke:#555"/>
<ellipse cx="786.0" cy="185.5" rx="2.8" ry="2.0" transform="rotate(60 786.0 185.5)" class="p" style="fill:#111;stroke:#111"/>
<line x1="806.0" y1="174.0" x2="812.0" y2="170.5" class="lt" />
<ellipse cx="831.0" cy="160.5" rx="16.5" ry="11.0" transform="rotate(60 831.0 160.5)" class="p" style="fill:#1c1c1c;stroke:#0a0a0a;stroke-width:1.3"/>
<path d="M839.2 174.8 L827.2 181.3 L810.8 152.7 L822.8 146.2 Z" fill="#1c1c1c" stroke="none"/>
<line x1="839.2" y1="174.8" x2="827.2" y2="181.3" class="p" style="stroke:#0a0a0a;stroke-width:1.3"/>
<line x1="822.8" y1="146.2" x2="810.8" y2="152.7" class="p" style="stroke:#0a0a0a;stroke-width:1.3"/>
<ellipse cx="819.0" cy="167.0" rx="16.5" ry="11.0" transform="rotate(60 819.0 167.0)" class="p" style="fill:#262626;stroke:#0a0a0a;stroke-width:1.3"/>
<ellipse cx="819.3" cy="166.9" rx="13.8" ry="8.8" transform="rotate(60 819.3 166.9)" class="p" style="stroke:#e8e8e8;stroke-width:2;stroke-dasharray:2.2 3"/>
<ellipse cx="819.8" cy="166.6" rx="9.5" ry="5.5" transform="rotate(60 819.8 166.6)" class="p" style="fill:#0e0e0e;stroke:#999;stroke-width:0.8"/>
<line x1="815.0" y1="152.5" x2="818.2" y2="158.5" class="p" style="stroke:#eee;stroke-width:1.6"/>
<line x1="820.5" y1="150.0" x2="823.7" y2="156.0" class="p" style="stroke:#eee;stroke-width:1.6"/>
<line x1="826.5" y1="149.0" x2="829.7" y2="155.0" class="p" style="stroke:#eee;stroke-width:1.6"/>
<line x1="832.5" y1="149.8" x2="835.7" y2="155.8" class="p" style="stroke:#eee;stroke-width:1.6"/>
<line x1="824.0" y1="161.0" x2="826.6" y2="166.0" class="p" style="stroke:#ddd;stroke-width:1.4"/>
<line x1="829.5" y1="160.0" x2="832.1" y2="165.0" class="p" style="stroke:#ddd;stroke-width:1.4"/>
<line x1="835.0" y1="160.5" x2="837.6" y2="165.5" class="p" style="stroke:#ddd;stroke-width:1.4"/>
<path d="M816 163 l3.5 6.5 M820 162 l3 5.5" class="p" style="stroke:#ccc;stroke-width:1"/>
<line x1="844.0" y1="152.5" x2="850.0" y2="149.0" class="lt" />
<path d="M840.5 111.5 L855.5 102.5 L860 102.8 L878 115.5 C886 121 893.5 131 893 140 C892.5 146 889.5 149 886 151 L873 157.5 L848 130 Z" class="p" style="fill:#fff;stroke:#5a5a5a;stroke-width:1.2"/>
<ellipse cx="864" cy="113" rx="13" ry="4.6" transform="rotate(31 864 113)" fill="#b5b5b5" stroke="#888" stroke-width="0.8"/>
<ellipse cx="868" cy="120.5" rx="10" ry="3.8" transform="rotate(20 868 120.5)" fill="#fff" stroke="#2a2a2a" stroke-width="1.3"/>
<path d="M841 112.5 L843 117 L858 125" class="pk" style="stroke:#1a1a1a;stroke-width:2"/>
<path d="M843.5 117.5 L848.5 128" class="p" style="stroke:#333;stroke-width:1.3"/>
<ellipse cx="862.0" cy="142.2" rx="18.0" ry="12.0" transform="rotate(60 862.0 142.2)" class="p" style="fill:#fff;stroke:#1e1e1e;stroke-width:1.8"/>
<ellipse cx="863.5" cy="141.5" rx="14.8" ry="8.6" transform="rotate(60 863.5 141.5)" class="p" style="fill:#fff;stroke:#333;stroke-width:1.1"/>
<path d="M856 131.5 C854 138 858 147 866 151.5 L870 148.5 C863.5 144.5 860.5 137 861.5 131 Z" class="p" style="fill:#1c1c1c;stroke:#111"/>
<path d="M864 131 L873 147 M867 130 L876 145.5" class="p" style="stroke:#555;stroke-width:0.9"/>
<path d="M892 123 L896 121" class="pk" style="stroke:#111;stroke-width:3.5"/>
<path d="M896 119.5 L909 112 L911 115 L898 122.5 Z" class="p" style="fill:#eee;stroke:#333"/>
<path d="M908 111.5 L911.5 116" class="pk" style="stroke:#222;stroke-width:2"/>
<line x1="911.0" y1="113.0" x2="917.0" y2="109.5" class="lt" />
<ellipse cx="930.5" cy="101.8" rx="19.0" ry="12.0" transform="rotate(60 930.5 101.8)" class="p" style="fill:#fff;stroke:#555;stroke-width:1.6"/>
<path d="M924 89 l5 1.5 M938.5 106 l2.5 4 M925.5 114 l4 1.5" class="pk" style="stroke:#3a3a3a;stroke-width:2.6"/>
<path d="M928 101 l4 -2" class="lt" style="stroke:#bbb"/>
<ellipse cx="331.0" cy="365.0" rx="14.0" ry="7.5" transform="rotate(60 331.0 365.0)" class="p" style="fill:#2e2e2e;stroke:#151515;stroke-width:1.2"/>
<path d="M338.0 377.1 L327.0 383.6 L313.0 359.4 L324.0 352.9 Z" fill="#2e2e2e" stroke="none"/>
<line x1="338.0" y1="377.1" x2="327.0" y2="383.6" class="p" style="stroke:#151515;stroke-width:1.2"/>
<line x1="324.0" y1="352.9" x2="313.0" y2="359.4" class="p" style="stroke:#151515;stroke-width:1.2"/>
<ellipse cx="320.0" cy="371.5" rx="14.0" ry="7.5" transform="rotate(60 320.0 371.5)" class="p" style="fill:#3a3a3a;stroke:#151515;stroke-width:1.2"/>
<ellipse cx="328.8" cy="366.2" rx="14.0" ry="7.5" transform="rotate(60 328.8 366.2)" class="p" style="stroke:#8a8a8a;stroke-width:0.9"/>
<ellipse cx="326.7" cy="367.5" rx="14.0" ry="7.5" transform="rotate(60 326.7 367.5)" class="p" style="stroke:#8a8a8a;stroke-width:0.9"/>
<ellipse cx="324.5" cy="368.8" rx="14.0" ry="7.5" transform="rotate(60 324.5 368.8)" class="p" style="stroke:#8a8a8a;stroke-width:0.9"/>
<ellipse cx="322.3" cy="370.0" rx="14.0" ry="7.5" transform="rotate(60 322.3 370.0)" class="p" style="stroke:#8a8a8a;stroke-width:0.9"/>
<ellipse cx="331.5" cy="364.7" rx="9.5" ry="4.6" transform="rotate(60 331.5 364.7)" class="p" style="fill:#151515;stroke:#111"/>
<ellipse cx="319.0" cy="372.0" rx="11.5" ry="6.0" transform="rotate(60 319.0 372.0)" class="p" style="fill:#6a6a6a;stroke:#2a2a2a;stroke-width:1.1"/>
<path d="M324.8 382.0 L303.8 394.0 L292.2 374.0 L313.2 362.0 Z" fill="#6a6a6a" stroke="none"/>
<line x1="324.8" y1="382.0" x2="303.8" y2="394.0" class="p" style="stroke:#2a2a2a;stroke-width:1.1"/>
<line x1="313.2" y1="362.0" x2="292.2" y2="374.0" class="p" style="stroke:#2a2a2a;stroke-width:1.1"/>
<ellipse cx="298.0" cy="384.0" rx="11.5" ry="6.0" transform="rotate(60 298.0 384.0)" class="p" style="fill:#777;stroke:#2a2a2a;stroke-width:1.1"/>
<ellipse cx="315.5" cy="374.0" rx="11.5" ry="6.0" transform="rotate(60 315.5 374.0)" class="p" style="stroke:#333;stroke-width:0.9"/>
<ellipse cx="312.1" cy="376.0" rx="11.5" ry="6.0" transform="rotate(60 312.1 376.0)" class="p" style="stroke:#333;stroke-width:0.9"/>
<ellipse cx="308.6" cy="378.0" rx="11.5" ry="6.0" transform="rotate(60 308.6 378.0)" class="p" style="stroke:#333;stroke-width:0.9"/>
<ellipse cx="305.1" cy="380.0" rx="11.5" ry="6.0" transform="rotate(60 305.1 380.0)" class="p" style="stroke:#333;stroke-width:0.9"/>
<ellipse cx="301.7" cy="382.0" rx="11.5" ry="6.0" transform="rotate(60 301.7 382.0)" class="p" style="stroke:#333;stroke-width:0.9"/>
<path d="M304 375.5 l4.5 7.5 M309.5 372.5 l4.5 7.5" class="p" style="stroke:#fff;stroke-width:2.4"/>
<ellipse cx="298.0" cy="384.0" rx="9.0" ry="5.0" transform="rotate(60 298.0 384.0)" class="p" style="fill:#fff;stroke:#555"/>
<path d="M302.5 391.8 L296.0 395.4 L287.0 379.8 L293.5 376.2 Z" fill="#fff" stroke="none"/>
<line x1="302.5" y1="391.8" x2="296.0" y2="395.4" class="p" style="stroke:#555"/>
<line x1="293.5" y1="376.2" x2="287.0" y2="379.8" class="p" style="stroke:#555"/>
<ellipse cx="291.5" cy="387.6" rx="9.0" ry="5.0" transform="rotate(60 291.5 387.6)" class="p" style="fill:#fff;stroke:#555"/>
<ellipse cx="291.5" cy="386.3" rx="10.6" ry="6.2" transform="rotate(60 291.5 386.3)" class="p" style="fill:#262626;stroke:#222;stroke-width:1.2"/>
<path d="M296.8 395.5 L289.8 399.5 L279.2 381.1 L286.2 377.1 Z" fill="#262626" stroke="none"/>
<line x1="296.8" y1="395.5" x2="289.8" y2="399.5" class="p" style="stroke:#222;stroke-width:1.2"/>
<line x1="286.2" y1="377.1" x2="279.2" y2="381.1" class="p" style="stroke:#222;stroke-width:1.2"/>
<ellipse cx="284.5" cy="390.3" rx="10.6" ry="6.2" transform="rotate(60 284.5 390.3)" class="p" style="fill:#fff;stroke:#222;stroke-width:1.2"/>
<ellipse cx="284.3" cy="390.4" rx="6.0" ry="3.2" transform="rotate(60 284.3 390.4)" class="p" style="fill:#fff;stroke:#666"/>
<path d="M282.5 388.5 l4 3.5" class="pk" style="stroke:#222;stroke-width:2.2"/>
<ellipse cx="476.0" cy="366.0" rx="14.0" ry="7.5" transform="rotate(60 476.0 366.0)" class="p" style="fill:#2e2e2e;stroke:#151515;stroke-width:1.2"/>
<path d="M483.0 378.1 L472.0 384.6 L458.0 360.4 L469.0 353.9 Z" fill="#2e2e2e" stroke="none"/>
<line x1="483.0" y1="378.1" x2="472.0" y2="384.6" class="p" style="stroke:#151515;stroke-width:1.2"/>
<line x1="469.0" y1="353.9" x2="458.0" y2="360.4" class="p" style="stroke:#151515;stroke-width:1.2"/>
<ellipse cx="465.0" cy="372.5" rx="14.0" ry="7.5" transform="rotate(60 465.0 372.5)" class="p" style="fill:#3a3a3a;stroke:#151515;stroke-width:1.2"/>
<ellipse cx="473.8" cy="367.2" rx="14.0" ry="7.5" transform="rotate(60 473.8 367.2)" class="p" style="stroke:#8a8a8a;stroke-width:0.9"/>
<ellipse cx="471.7" cy="368.5" rx="14.0" ry="7.5" transform="rotate(60 471.7 368.5)" class="p" style="stroke:#8a8a8a;stroke-width:0.9"/>
<ellipse cx="469.5" cy="369.8" rx="14.0" ry="7.5" transform="rotate(60 469.5 369.8)" class="p" style="stroke:#8a8a8a;stroke-width:0.9"/>
<ellipse cx="467.3" cy="371.0" rx="14.0" ry="7.5" transform="rotate(60 467.3 371.0)" class="p" style="stroke:#8a8a8a;stroke-width:0.9"/>
<ellipse cx="476.5" cy="365.7" rx="9.5" ry="4.6" transform="rotate(60 476.5 365.7)" class="p" style="fill:#151515;stroke:#111"/>
<ellipse cx="464.0" cy="373.0" rx="11.5" ry="6.0" transform="rotate(60 464.0 373.0)" class="p" style="fill:#6a6a6a;stroke:#2a2a2a;stroke-width:1.1"/>
<path d="M469.8 383.0 L448.8 395.0 L437.2 375.0 L458.2 363.0 Z" fill="#6a6a6a" stroke="none"/>
<line x1="469.8" y1="383.0" x2="448.8" y2="395.0" class="p" style="stroke:#2a2a2a;stroke-width:1.1"/>
<line x1="458.2" y1="363.0" x2="437.2" y2="375.0" class="p" style="stroke:#2a2a2a;stroke-width:1.1"/>
<ellipse cx="443.0" cy="385.0" rx="11.5" ry="6.0" transform="rotate(60 443.0 385.0)" class="p" style="fill:#777;stroke:#2a2a2a;stroke-width:1.1"/>
<ellipse cx="460.5" cy="375.0" rx="11.5" ry="6.0" transform="rotate(60 460.5 375.0)" class="p" style="stroke:#333;stroke-width:0.9"/>
<ellipse cx="457.1" cy="377.0" rx="11.5" ry="6.0" transform="rotate(60 457.1 377.0)" class="p" style="stroke:#333;stroke-width:0.9"/>
<ellipse cx="453.6" cy="379.0" rx="11.5" ry="6.0" transform="rotate(60 453.6 379.0)" class="p" style="stroke:#333;stroke-width:0.9"/>
<ellipse cx="450.1" cy="381.0" rx="11.5" ry="6.0" transform="rotate(60 450.1 381.0)" class="p" style="stroke:#333;stroke-width:0.9"/>
<ellipse cx="446.7" cy="383.0" rx="11.5" ry="6.0" transform="rotate(60 446.7 383.0)" class="p" style="stroke:#333;stroke-width:0.9"/>
<path d="M449 376.5 l4.5 7.5 M454.5 373.5 l4.5 7.5" class="p" style="stroke:#fff;stroke-width:2.4"/>
<ellipse cx="443.0" cy="385.0" rx="9.0" ry="5.0" transform="rotate(60 443.0 385.0)" class="p" style="fill:#fff;stroke:#555"/>
<path d="M447.5 392.8 L441.0 396.4 L432.0 380.8 L438.5 377.2 Z" fill="#fff" stroke="none"/>
<line x1="447.5" y1="392.8" x2="441.0" y2="396.4" class="p" style="stroke:#555"/>
<line x1="438.5" y1="377.2" x2="432.0" y2="380.8" class="p" style="stroke:#555"/>
<ellipse cx="436.5" cy="388.6" rx="9.0" ry="5.0" transform="rotate(60 436.5 388.6)" class="p" style="fill:#fff;stroke:#555"/>
<ellipse cx="436.5" cy="387.3" rx="10.6" ry="6.2" transform="rotate(60 436.5 387.3)" class="p" style="fill:#262626;stroke:#222;stroke-width:1.2"/>
<path d="M441.8 396.5 L434.8 400.5 L424.2 382.1 L431.2 378.1 Z" fill="#262626" stroke="none"/>
<line x1="441.8" y1="396.5" x2="434.8" y2="400.5" class="p" style="stroke:#222;stroke-width:1.2"/>
<line x1="431.2" y1="378.1" x2="424.2" y2="382.1" class="p" style="stroke:#222;stroke-width:1.2"/>
<ellipse cx="429.5" cy="391.3" rx="10.6" ry="6.2" transform="rotate(60 429.5 391.3)" class="p" style="fill:#fff;stroke:#222;stroke-width:1.2"/>
<ellipse cx="429.3" cy="391.4" rx="6.0" ry="3.2" transform="rotate(60 429.3 391.4)" class="p" style="fill:#fff;stroke:#666"/>
<path d="M427.5 389.5 l4 3.5" class="pk" style="stroke:#222;stroke-width:2.2"/>
<line x1="421.0" y1="396.0" x2="414.0" y2="400.0" class="lt" />
<ellipse cx="405.5" cy="405.0" rx="15.5" ry="9.5" transform="rotate(60 405.5 405.0)" class="p" style="fill:#2a2a2a;stroke:#111;stroke-width:1.2"/>
<path d="M413.2 418.4 L407.8 421.6 L392.2 394.8 L397.8 391.6 Z" fill="#2a2a2a" stroke="none"/>
<line x1="413.2" y1="418.4" x2="407.8" y2="421.6" class="p" style="stroke:#111;stroke-width:1.2"/>
<line x1="397.8" y1="391.6" x2="392.2" y2="394.8" class="p" style="stroke:#111;stroke-width:1.2"/>
<ellipse cx="400.0" cy="408.2" rx="15.5" ry="9.5" transform="rotate(60 400.0 408.2)" class="p" style="fill:#2a2a2a;stroke:#111;stroke-width:1.2"/>
<ellipse cx="400.0" cy="408.2" rx="15.5" ry="9.5" transform="rotate(60 400.0 408.2)" class="p" style="fill:#fff;stroke:#222;stroke-width:1.4"/>
<ellipse cx="400.8" cy="407.8" rx="12.3" ry="7.0" transform="rotate(60 400.8 407.8)" class="p" style="fill:#fff;stroke:#444"/>
<path d="M396 400 L406 415 M400 398 L409 412" class="p" style="stroke:#888;stroke-width:0.8"/>
<ellipse cx="370.0" cy="424.9" rx="16.5" ry="11.0" transform="rotate(60 370.0 424.9)" class="p" style="fill:#1c1c1c;stroke:#0a0a0a;stroke-width:1.3"/>
<path d="M378.2 439.2 L366.2 445.7 L349.8 417.1 L361.8 410.6 Z" fill="#1c1c1c" stroke="none"/>
<line x1="378.2" y1="439.2" x2="366.2" y2="445.7" class="p" style="stroke:#0a0a0a;stroke-width:1.3"/>
<line x1="361.8" y1="410.6" x2="349.8" y2="417.1" class="p" style="stroke:#0a0a0a;stroke-width:1.3"/>
<ellipse cx="358.0" cy="431.4" rx="16.5" ry="11.0" transform="rotate(60 358.0 431.4)" class="p" style="fill:#262626;stroke:#0a0a0a;stroke-width:1.3"/>
<ellipse cx="358.3" cy="431.3" rx="13.8" ry="8.8" transform="rotate(60 358.3 431.3)" class="p" style="stroke:#e8e8e8;stroke-width:2;stroke-dasharray:2.2 3"/>
<ellipse cx="358.8" cy="431.0" rx="9.5" ry="5.5" transform="rotate(60 358.8 431.0)" class="p" style="fill:#0e0e0e;stroke:#999;stroke-width:0.8"/>
<line x1="354.0" y1="416.9" x2="357.2" y2="422.9" class="p" style="stroke:#eee;stroke-width:1.6"/>
<line x1="359.5" y1="414.4" x2="362.7" y2="420.4" class="p" style="stroke:#eee;stroke-width:1.6"/>
<line x1="365.5" y1="413.4" x2="368.7" y2="419.4" class="p" style="stroke:#eee;stroke-width:1.6"/>
<line x1="371.5" y1="414.2" x2="374.7" y2="420.2" class="p" style="stroke:#eee;stroke-width:1.6"/>
<line x1="363.0" y1="425.4" x2="365.6" y2="430.4" class="p" style="stroke:#ddd;stroke-width:1.4"/>
<line x1="368.5" y1="424.4" x2="371.1" y2="429.4" class="p" style="stroke:#ddd;stroke-width:1.4"/>
<line x1="374.0" y1="424.9" x2="376.6" y2="429.9" class="p" style="stroke:#ddd;stroke-width:1.4"/>
<path d="M355 427.4 l3.5 6.5 M359 426.4 l3 5.5" class="p" style="stroke:#ccc;stroke-width:1"/>
<line x1="383.0" y1="417.0" x2="389.0" y2="413.5" class="lt" />
<path d="M292.5 427.5 L307.5 418.5 L312 418.8 L330 431.5 C338 437 345.5 447 345 456 C344.5 462 341.5 465 338 467 L325 473.5 L300 446 Z" class="p" style="fill:#fff;stroke:#5a5a5a;stroke-width:1.2"/>
<path d="M296.5 428.5 L308 421.8 L311 422 L328 434 M296.5 428.5 L302 440" class="p" style="stroke:#666;stroke-width:1.1"/>
<ellipse cx="317" cy="432" rx="12" ry="4.2" transform="rotate(30 317 432)" fill="#fff" stroke="#555" stroke-width="1.1"/>
<ellipse cx="321.5" cy="435.5" rx="7" ry="3" transform="rotate(22 321.5 435.5)" fill="#fff" stroke="#222" stroke-width="1.4"/>
<ellipse cx="314.0" cy="458.2" rx="18.0" ry="12.0" transform="rotate(60 314.0 458.2)" class="p" style="fill:#a8a8a8;stroke:#1e1e1e;stroke-width:2.1"/>
<ellipse cx="315.5" cy="457.5" rx="14.8" ry="8.6" transform="rotate(60 315.5 457.5)" class="p" style="fill:#fff;stroke:#333;stroke-width:1.1"/>
<path d="M305.5 452 C305.5 459 310.5 467 317.5 470" class="pk" style="stroke:#111;stroke-width:2.4"/>
<circle cx="317.5" cy="456" r="1.6" fill="#111"/>
<path d="M290.5 471.3 L297 467.8" class="pk" style="stroke:#111;stroke-width:4.6"/>
<line x1="295.0" y1="468.0" x2="301.0" y2="464.5" class="p" style="stroke:#444"/>
<ellipse cx="273.0" cy="482.0" rx="19.3" ry="12.3" transform="rotate(60 273.0 482.0)" class="p" style="fill:#fff;stroke:#444;stroke-width:1.5"/>
<path d="M276 464.5 C284 469 289 480 287 492" class="pk" style="stroke:#222;stroke-width:2"/>
<path d="M276 464.5 l3 1.5 M287.5 484 l0.5 4" class="pk" style="stroke:#333;stroke-width:2"/>
<ellipse cx="468.5" cy="504.8" rx="15.5" ry="9.5" transform="rotate(60 468.5 504.8)" class="p" style="fill:#d8d8d8;stroke:#777"/>
<path d="M476.2 518.2 L468.8 522.5 L453.2 495.7 L460.8 491.4 Z" fill="#d8d8d8" stroke="none"/>
<line x1="476.2" y1="518.2" x2="468.8" y2="522.5" class="p" style="stroke:#777"/>
<line x1="460.8" y1="491.4" x2="453.2" y2="495.7" class="p" style="stroke:#777"/>
<ellipse cx="461.0" cy="509.1" rx="15.5" ry="9.5" transform="rotate(60 461.0 509.1)" class="p" style="fill:#d8d8d8;stroke:#777"/>
<ellipse cx="466.8" cy="505.8" rx="15.5" ry="9.5" transform="rotate(60 466.8 505.8)" class="p" style="stroke:#a5a5a5;stroke-width:0.7"/>
<ellipse cx="465.0" cy="506.8" rx="15.5" ry="9.5" transform="rotate(60 465.0 506.8)" class="p" style="stroke:#a5a5a5;stroke-width:0.7"/>
<ellipse cx="463.3" cy="507.8" rx="15.5" ry="9.5" transform="rotate(60 463.3 507.8)" class="p" style="stroke:#a5a5a5;stroke-width:0.7"/>
<ellipse cx="461.0" cy="509.1" rx="14.0" ry="8.5" transform="rotate(60 461.0 509.1)" class="p" style="fill:#fff;stroke:#444;stroke-width:1.1"/>
<path d="M468.0 521.2 L425.0 546.0 L411.0 521.8 L454.0 497.0 Z" fill="#fff" stroke="none"/>
<line x1="468.0" y1="521.2" x2="425.0" y2="546.0" class="p" style="stroke:#444;stroke-width:1.1"/>
<line x1="454.0" y1="497.0" x2="411.0" y2="521.8" class="p" style="stroke:#444;stroke-width:1.1"/>
<ellipse cx="417.0" cy="534.5" rx="16.5" ry="10.0" transform="rotate(60 417.0 534.5)" class="p" style="fill:#e0e0e0;stroke:#444;stroke-width:1.1"/>
<path d="M425.2 548.8 L415.8 554.3 L399.2 525.7 L408.8 520.2 Z" fill="#e0e0e0" stroke="none"/>
<line x1="425.2" y1="548.8" x2="415.8" y2="554.3" class="p" style="stroke:#444;stroke-width:1.1"/>
<line x1="408.8" y1="520.2" x2="399.2" y2="525.7" class="p" style="stroke:#444;stroke-width:1.1"/>
<ellipse cx="407.5" cy="540.0" rx="16.5" ry="10.0" transform="rotate(60 407.5 540.0)" class="p" style="fill:#e0e0e0;stroke:#444;stroke-width:1.1"/>
<ellipse cx="414.8" cy="535.8" rx="16.5" ry="10.0" transform="rotate(60 414.8 535.8)" class="p" style="stroke:#999;stroke-width:0.7"/>
<ellipse cx="412.7" cy="537.0" rx="16.5" ry="10.0" transform="rotate(60 412.7 537.0)" class="p" style="stroke:#999;stroke-width:0.7"/>
<ellipse cx="410.5" cy="538.2" rx="16.5" ry="10.0" transform="rotate(60 410.5 538.2)" class="p" style="stroke:#999;stroke-width:0.7"/>
<ellipse cx="407.5" cy="540.0" rx="16.5" ry="10.0" transform="rotate(60 407.5 540.0)" class="p" style="fill:#fff;stroke:#333;stroke-width:1.3"/>
<path d="M399.5 528.0 L407.5 527.0 L415.5 539.0 L415.0 551.0 L407.5 553.0 L399.0 540.5 Z" class="p" style="stroke:#333;stroke-width:1.2;fill:#c8c8c8"/>
<path d="M402.3 532.0 L407.5 531.5 L412.7 540.0 L412.3 548.0 L407.5 549.0 L402.0 540.5 Z" class="p" style="stroke:#777;fill:#fff"/>
<path d="M403.5 533.5 L411.5 547" class="p" style="stroke:#999"/>
<path d="M435 508.5 L444 513" class="pk" style="stroke:#111;stroke-width:2.6"/>
<circle cx="444" cy="529" r="2.5" fill="#fff" stroke="#333" stroke-width="1.1"/>
<line x1="443.0" y1="532.0" x2="442.0" y2="536.0" class="p" style="stroke:#444"/>
<circle cx="451" cy="503" r="0.9" fill="#222"/><circle cx="420" cy="522.5" r="0.9" fill="#222"/>
<text x="451.0" y="548.5" font-size="9.5" fill="#8a8a8a" stroke="#8a8a8a" stroke-width="0.3" text-anchor="middle" transform="rotate(-30 451.0 548.5)" font-weight="bold">34mm</text>
</g>
</svg>
</body></html>
